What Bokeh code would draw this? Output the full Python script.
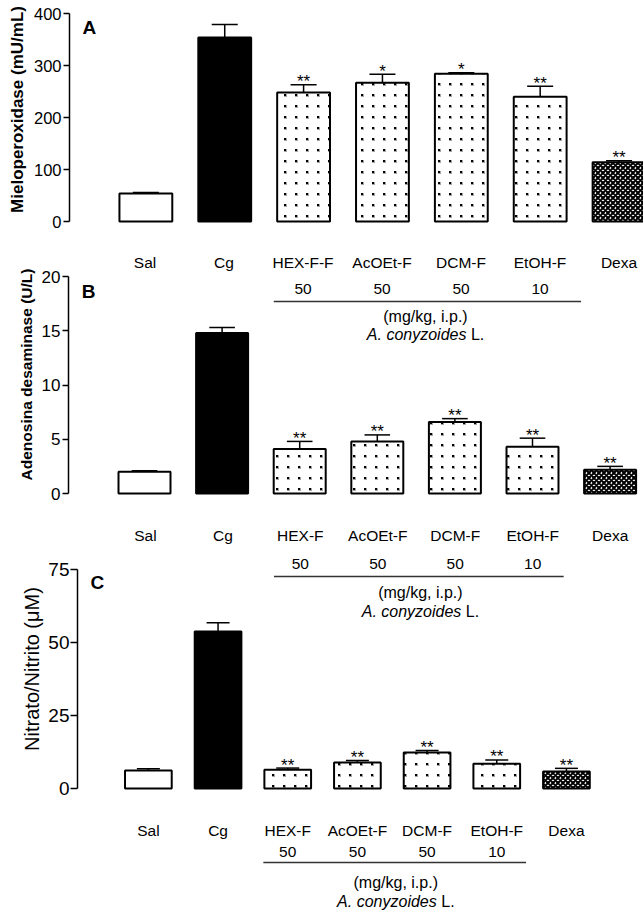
import math, zlib, struct, base64
from bokeh.plotting import figure
from bokeh.layouts import column, row
from bokeh.models import Range1d, FixedTicker, ColumnDataSource, ImageURLTexture
from bokeh.core.properties import value
from bokeh.embed import file_html
from bokeh.resources import INLINE

# ---------------- data ----------------
groups_a = ["Sal", "Cg", "HEX-F-F", "AcOEt-F", "DCM-F", "EtOH-F", "Dexa"]
groups_bc = ["Sal", "Cg", "HEX-F", "AcOEt-F", "DCM-F", "EtOH-F", "Dexa"]
doses = ["50", "50", "50", "10"]
dose_unit = "(mg/kg, i.p.)"
species = "A. conyzoides"
species_author = "L."

mpo_mean = [54, 354, 248, 267, 284, 240, 114]
mpo_sem = [2, 25, 15, 16, 2, 20, 3]
mpo_sig = ["", "", "**", "*", "*", "**", "**"]

ada_mean = [2.0, 14.8, 4.1, 4.8, 6.6, 4.3, 2.2]
ada_sem = [0.1, 0.5, 0.7, 0.6, 0.3, 0.8, 0.3]
ada_sig = ["", "", "**", "**", "**", "**", "**"]

no_mean = [6.2, 53.8, 6.4, 8.9, 12.3, 8.5, 5.8]
no_sem = [0.6, 3.0, 0.6, 0.7, 0.7, 1.3, 1.1]
no_sig = ["", "", "**", "**", "**", "**", "**"]

# ---------------- styles ----------------
fill_colors = ["white", "black", "white", "white", "white", "white", "white"]
hatches = ["blank", "blank", "fdots", "fdots", "fdots", "fdots", "diagonal_cross"]
hatch_scales = [11, 11, 11, 11, 11, 11, 5]
hatch_weights = [1, 1, 1, 1, 1, 1, 2.0]


def dot_png(ax, ay, n=11):
    rows = []
    for j in range(n):
        r = bytearray(b"\x00")
        for i in range(n):
            di, dj = (i - ax) % n, (j - ay) % n
            if di < 2 and dj < 2:
                a = 255
            elif di <= 2 and dj <= 2:
                a = 90
            else:
                a = 0
            r += bytes((0, 0, 0, a))
        rows.append(bytes(r))
    raw = b"".join(rows)

    def chunk(t, d):
        return struct.pack(">I", len(d)) + t + d + struct.pack(">I", zlib.crc32(t + d) & 0xffffffff)

    png = (b"\x89PNG\r\n\x1a\n" + chunk(b"IHDR", struct.pack(">IIBBBBB", n, n, 8, 6, 0, 0, 0))
           + chunk(b"IDAT", zlib.compress(raw)) + chunk(b"IEND", b""))
    return "data:image/png;base64," + base64.b64encode(png).decode()


FONT = "Liberation Sans"
W = 643


def geom(H, L, c0, dx, z, t, ymax, tw, dots):
    k = (z - t) / ymax
    xs = -(c0 - L) / dx
    return dict(H=H, L=L, c0=c0, dx=dx, z=z, t=t, ymax=ymax, k=k, tw=tw,
                x0=xs, x1=xs + (W - L) / dx,
                y0=-(H - z) / k, y1=ymax + t / k,
                tex=ImageURLTexture(url=dot_png(*dots), repetition="repeat"))


gA = geom(250, 68, 144.5, 79.0, 221, 13, 400, 30, (1, 6))
gB = geom(260, 68, 144.0, 77.6, 243, 26, 20, 36, (9, 7))
gC = geom(401, 76, 147.0, 69.8, 278, 59, 75, 45, (7, 0))


def ypx(g, py):
    return (g["z"] - py) / g["k"]


def xpx(g, px):
    return g["x0"] + (px - g["L"]) / g["dx"]


def make_fig(g, ticks, tick_size, standoff, tick_out):
    p = figure(width=W - g["tw"], height=g["H"], x_range=Range1d(g["x0"], g["x1"]),
               y_range=Range1d(g["y0"], g["y1"]), output_backend="svg",
               toolbar_location=None, x_axis_location=None, title=None,
               min_border_left=g["L"] - g["tw"], min_border_right=0,
               min_border_top=0, min_border_bottom=0)
    p.outline_line_color = None
    p.grid.visible = False
    p.background_fill_color = "white"
    p.border_fill_color = "white"
    ax = p.yaxis[0]
    ax.bounds = (0, g["ymax"])
    ax.ticker = FixedTicker(ticks=ticks)
    ax.minor_tick_line_color = None
    ax.major_tick_in = 0
    ax.major_tick_out = tick_out
    ax.major_tick_line_width = 1.5
    ax.axis_line_width = 1.5
    ax.axis_line_color = "black"
    ax.major_tick_line_color = "black"
    ax.major_label_text_font = FONT
    ax.major_label_text_font_size = tick_size
    ax.major_label_text_color = "black"
    ax.major_label_standoff = standoff
    return p


def title_fig(g, text, cx, cy, size, bold):
    t = figure(width=g["tw"], height=g["H"], x_range=Range1d(0, g["tw"]),
               y_range=Range1d(g["H"], 0), output_backend="svg", toolbar_location=None,
               x_axis_location=None, y_axis_location=None, title=None,
               min_border_left=0, min_border_right=0, min_border_top=0, min_border_bottom=0)
    t.outline_line_color = None
    t.grid.visible = False
    t.text(x=[cx], y=[cy], text=[text], angle=math.pi / 2, text_align="center",
           text_baseline="middle", text_font=value(FONT), text_font_size=size,
           text_font_style="bold" if bold else "normal", text_color="black")
    return t


def draw_bars(p, g, mean, sem, sig):
    idx = list(range(len(mean)))
    err = [m + s for m, s in zip(mean, sem)]
    src = ColumnDataSource(dict(x=idx, top=mean, err=err, fill=fill_colors,
                                hatch=hatches, hs=hatch_scales, hw=hatch_weights,
                                sig=sig,
                                cl=[i - 0.165 for i in idx], cr=[i + 0.165 for i in idx]))
    p.vbar(x="x", top="top", bottom=0, width=0.67, source=src,
           fill_color="fill", line_color="black", line_width=2,
           hatch_pattern="hatch", hatch_color="black", hatch_scale="hs",
           hatch_weight="hw", hatch_extra={"fdots": g["tex"]})
    p.segment(x0="x", y0="top", x1="x", y1="err", source=src,
              line_color="black", line_width=1.5)
    p.segment(x0="cl", y0="err", x1="cr", y1="err", source=src,
              line_color="black", line_width=1.5)
    p.text(x="x", y="err", text="sig", source=src, text_align="center",
           text_baseline="alphabetic", y_offset=-3, text_font=value(FONT),
           text_font_size="17px", text_color="black")


def draw_labels(p, g, rows, names, span, rng=None, cat_size="15.5px", sub_size="16px"):
    kw = dict(x_range_name=rng) if rng else {}
    yn, yd, yl, yu, ys = [ypx(g, r) for r in rows]
    n = len(names)
    tkw = dict(text_align="center", text_baseline="middle", text_font=value(FONT),
               text_color="black")
    p.text(x=list(range(n)), y=[yn] * n, text=names, text_font_size=cat_size, **tkw, **kw)
    p.text(x=[2, 3, 4, 5], y=[yd] * 4, text=doses, text_font_size=cat_size, **tkw, **kw)
    p.segment(x0=[span[0]], y0=[yl], x1=[span[1]], y1=[yl], line_color="#333333",
              line_width=1.5, **kw)
    p.text(x=[3.55], y=[yu], text=[dose_unit], text_font_size=sub_size, **tkw, **kw)
    p.text(x=[3.55], y=[ys], text=[species], text_align="right", text_baseline="middle",
           text_font=value(FONT), text_font_style="italic", text_font_size=sub_size,
           x_offset=41, text_color="black", **kw)
    p.text(x=[3.55], y=[ys], text=[species_author], text_align="left",
           text_baseline="middle", text_font=value(FONT), text_font_size=sub_size,
           x_offset=45.5, text_color="black", **kw)


def add_letter(p, g, letter, cx, cy):
    p.text(x=[xpx(g, cx)], y=[ypx(g, cy)], text=[letter], text_align="center",
           text_baseline="middle", text_font=value(FONT), text_font_style="bold",
           text_font_size="19px", text_color="black")


# ---------------- panel A ----------------
pA = make_fig(gA, [0, 100, 200, 300, 400], "16.5px", 2, 6)
draw_bars(pA, gA, mpo_mean, mpo_sem, mpo_sig)
add_letter(pA, gA, "A", 88, 27)
tA = title_fig(gA, "Mieloperoxidase (mU/mL)", 16.5, 109, "17px", True)

# ---------------- panel B ----------------
pB = make_fig(gB, [0, 5, 10, 15, 20], "17px", 2, 6)
pB.extra_x_ranges = {"a": Range1d(gA["x0"], gA["x1"])}
draw_bars(pB, gB, ada_mean, ada_sem, ada_sig)
# labels of panel A (positions local to this figure)
draw_labels(pB, gB, [12, 38, 51, 66, 84], groups_a, (1.63, 5.52), rng="a")
add_letter(pB, gB, "B", 88, 41)
tB = title_fig(gB, "Adenosina desaminase (U/L)", 25.5, 124, "15.5px", True)

# ---------------- panel C ----------------
pC = make_fig(gC, [0, 25, 50, 75], "19px", 1, 7)
bx0 = -(gB["c0"] - gC["L"]) / gB["dx"]
pC.extra_x_ranges = {"b": Range1d(bx0, bx0 + (W - gC["L"]) / gB["dx"])}
draw_bars(pC, gC, no_mean, no_sem, no_sig)
draw_labels(pC, gC, [25, 53, 66, 82, 101], groups_bc, (1.66, 5.40), rng="b")
draw_labels(pC, gC, [320, 341, 352, 372, 391], groups_bc, (1.65, 5.42))
add_letter(pC, gC, "C", 96, 72)
tC = title_fig(gC, "Nitrato/Nitrito (\u03bcM)", 31, 158.5, "20px", False)

layout = column(row(tA, pA, spacing=0), row(tB, pB, spacing=0), row(tC, pC, spacing=0),
                spacing=0)
open("out.html", "w").write(file_html(layout, INLINE))
